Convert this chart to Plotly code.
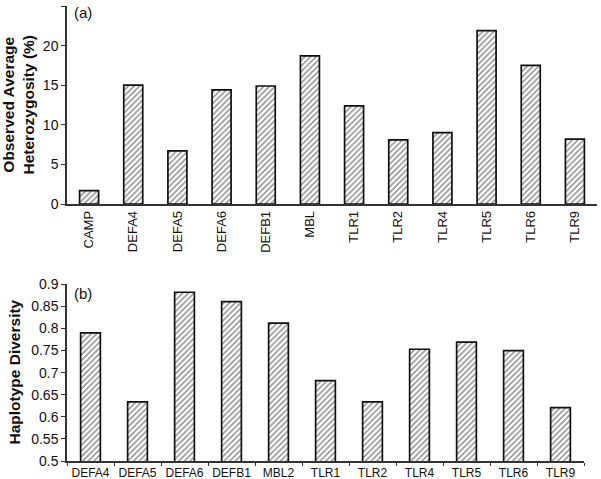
import plotly.graph_objects as go

genes_a = ["CAMP", "DEFA4", "DEFA5", "DEFA6", "DEFB1", "MBL", "TLR1", "TLR2", "TLR4", "TLR5", "TLR6", "TLR9"]
het_a = [1.7, 15.0, 6.7, 14.4, 14.9, 18.7, 12.4, 8.1, 9.0, 21.9, 17.5, 8.2]

genes_b = ["DEFA4", "DEFA5", "DEFA6", "DEFB1", "MBL2", "TLR1", "TLR2", "TLR4", "TLR5", "TLR6", "TLR9"]
hapdiv_b = [0.790, 0.634, 0.882, 0.861, 0.812, 0.682, 0.634, 0.753, 0.769, 0.750, 0.621]

W, H = 601, 479
ML, MR, MT, MB = 67, 4, 6, 18
PW = W - ML - MR
PH = H - MT - MB

def px_x(px):
    return (px - ML) / PW

def px_y(py):
    return (H - MB - py) / PH

pattern = dict(shape="/", fgcolor="#2a2a2a", bgcolor="#ffffff", size=4, solidity=0.4)
font = dict(family="Arial, Liberation Sans, sans-serif", color="#111111")

fig = go.Figure()
fig.add_trace(go.Bar(x=genes_a, y=het_a, xaxis="x", yaxis="y", width=0.43,
                     marker=dict(color="#ffffff", pattern=pattern, line=dict(color="#111111", width=1.7)),
                     showlegend=False))
fig.add_trace(go.Bar(x=genes_b, y=hapdiv_b, xaxis="x2", yaxis="y2", width=0.42,
                     marker=dict(color="#ffffff", pattern=pattern, line=dict(color="#111111", width=1.7)),
                     showlegend=False))

def axis_common(size):
    return dict(showgrid=False, zeroline=False, showline=True, linecolor="#333333", linewidth=1.5,
                automargin=False, tickfont=dict(size=size, **font))

fig.update_layout(
    width=W, height=H,
    margin=dict(l=ML, r=MR, t=MT, b=MB, autoexpand=False),
    paper_bgcolor="white", plot_bgcolor="white",
    xaxis=dict(domain=[0, 1], anchor="y", type="category", ticks="", tickangle=-90, **axis_common(13)),
    yaxis=dict(domain=[px_y(204), 1], anchor="x", range=[0, 25], dtick=5, ticks="outside", ticklen=4,
               tickcolor="#333333", **axis_common(14)),
    xaxis2=dict(domain=[0, px_x(584)], anchor="y2", type="category", ticks="outside", ticklen=3,
                tickson="boundaries", tickcolor="#333333", tickangle=0, **axis_common(12)),
    yaxis2=dict(domain=[0, px_y(284.3)], anchor="x2", range=[0.5, 0.9], dtick=0.05, ticks="outside",
                ticklen=4, tickcolor="#333333", **axis_common(14)),
    annotations=[
        dict(text="<b>Observed Average</b><br><b>Heterozygosity (%)</b>", xref="paper", yref="paper",
             x=px_x(17.5), y=px_y(105), textangle=-90, showarrow=False, xanchor="center", yanchor="middle",
             font=dict(size=15.5, **font), align="center"),
        dict(text="<b>Haplotype Diversity</b>", xref="paper", yref="paper",
             x=px_x(14), y=px_y(372.5), textangle=-90, showarrow=False, xanchor="center", yanchor="middle",
             font=dict(size=15.5, **font)),
        dict(text="(a)", xref="paper", yref="paper", x=px_x(72), y=px_y(13), showarrow=False,
             xanchor="left", yanchor="middle", font=dict(size=15, **font)),
        dict(text="(b)", xref="paper", yref="paper", x=px_x(72), y=px_y(293), showarrow=False,
             xanchor="left", yanchor="middle", font=dict(size=15, **font)),
    ],
)

fig.write_html("out.html", config={"displayModeBar": False},
               post_script="document.body.style.margin='0';document.body.style.overflow='hidden';")
